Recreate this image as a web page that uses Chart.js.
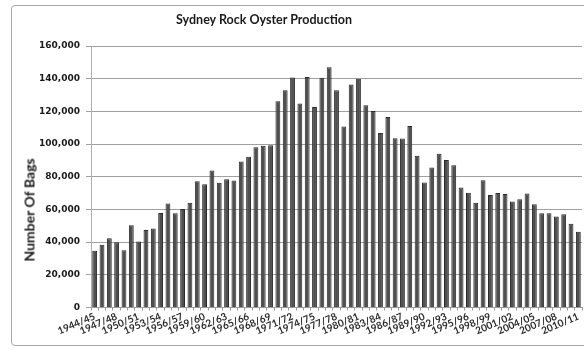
<!DOCTYPE html>
<html>
<head>
<meta charset="utf-8">
<title>Sydney Rock Oyster Production</title>
<script src="https://cdn.jsdelivr.net/npm/chart.js@4/dist/chart.umd.min.js"></script>
<style>
  html, body { margin: 0; padding: 0; background: #fff; overflow: hidden; }
  #wrap { position: relative; width: 584px; height: 351px; }
  #frame { position: absolute; left: 11px; top: 5px; width: 620px; height: 341px;
           border: 1px solid #a8a8a8; border-radius: 4px; box-sizing: border-box; }
  #chart { position: absolute; left: 0; top: 0; }
  #title { position: absolute; left: 264px; top: 19px; transform: translate(-50%, -50%);
           font: bold 12.5px Lato, "Liberation Sans", sans-serif; color: #1a1a1a; white-space: nowrap; }
  #ytitle { position: absolute; left: 29px; top: 210px; transform: translate(-50%, -50%) rotate(-90deg);
            font: bold 14px Lato, "Liberation Sans", sans-serif; color: #1a1a1a; white-space: nowrap; }
</style>
</head>
<body>
<div id="wrap">
  <div id="frame"></div>
  <canvas id="chart" width="584" height="351"></canvas>
  <div id="title">Sydney Rock Oyster Production</div>
  <div id="ytitle">Number Of Bags</div>
</div>
<script>
// Seasons (July–June years)
const seasons = [
  '1944/45','1945/46','1946/47','1947/48','1948/49','1949/50','1950/51','1951/52',
  '1952/53','1953/54','1954/55','1955/56','1956/57','1957/58','1958/59','1959/60',
  '1960/61','1961/62','1962/63','1963/64','1964/65','1965/66','1966/67','1967/68',
  '1968/69','1969/70','1970/71','1971/72','1972/73','1973/74','1974/75','1975/76',
  '1976/77','1977/78','1978/79','1979/80','1980/81','1981/82','1982/83','1983/84',
  '1984/85','1985/86','1986/87','1987/88','1988/89','1989/90','1990/91','1991/92',
  '1992/93','1993/94','1994/95','1995/96','1996/97','1997/98','1998/99','1999/00',
  '2000/01','2001/02','2002/03','2003/04','2004/05','2005/06','2006/07','2007/08',
  '2008/09','2009/10','2010/11'
];

// Bags of Sydney rock oysters produced per season
const bags = [
  34700, 38400, 42300, 40000, 35100, 50400, 40400, 47400,
  48400, 57800, 63700, 57600, 60200, 64100, 77300, 75400,
  83800, 76300, 78500, 77700, 89300, 92200, 98000, 98900,
  99300, 126200, 132900, 140700, 124800, 141100, 122700, 140500,
  147000, 132900, 110700, 136400, 139900, 123800, 120300, 106800,
  116600, 103600, 103400, 111100, 92800, 76500, 85700, 94000,
  90300, 87100, 73400, 70200, 64100, 77900, 68800, 70000,
  69400, 64900, 66300, 69800, 63100, 57600, 57600, 55700,
  57100, 51200, 46300
];

// Value axis ticks
const yTicks = [0, 20000, 40000, 60000, 80000, 100000, 120000, 140000, 160000];

// Only every third season is labelled on the category axis
const labelEvery = 3;

new Chart(document.getElementById('chart'), {
  type: 'bar',
  data: {
    labels: seasons,
    datasets: [{
      data: bags,
      backgroundColor: '#4f4f4f',
      borderColor: '#2a2a2a',
      borderWidth: 1,
      barPercentage: 0.66,
      categoryPercentage: 1.0
    }]
  },
  options: {
    responsive: false,
    animation: false,
    devicePixelRatio: 1,
    layout: { padding: { left: 0, right: 2, top: 46, bottom: 0 } },
    plugins: {
      legend: { display: false },
      title: { display: false },
      tooltip: { enabled: false }
    },
    scales: {
      x: {
        afterFit: (s) => { s.height = 43.5; },
        grid: { display: true, drawOnChartArea: false, offset: true, tickLength: 3, color: '#9a9a9a' },
        border: { display: true, color: '#9a9a9a' },
        ticks: {
          autoSkip: false,
          minRotation: 23,
          maxRotation: 23,
          padding: 0,
          color: '#2a2a2a',
          font: { family: 'Lato', weight: 'bold', size: 10 },
          callback: function (v, i) { return i % labelEvery === 0 ? seasons[i] : ''; }
        }
      },
      y: {
        min: yTicks[0],
        max: yTicks[yTicks.length - 1],
        afterFit: (s) => { s.width = 91; },
        afterBuildTicks: (s) => { s.ticks = yTicks.map(v => ({ value: v })); },
        grid: { color: '#a0a0a0', tickLength: 5 },
        border: { display: true, color: '#b0b0b0' },
        ticks: {
          padding: 6,
          color: '#1a1a1a',
          font: { family: 'DejaVu Sans', weight: 'bold', size: 9 },
          callback: (v) => v.toLocaleString('en-US')
        }
      }
    }
  }
});
</script>
</body>
</html>
